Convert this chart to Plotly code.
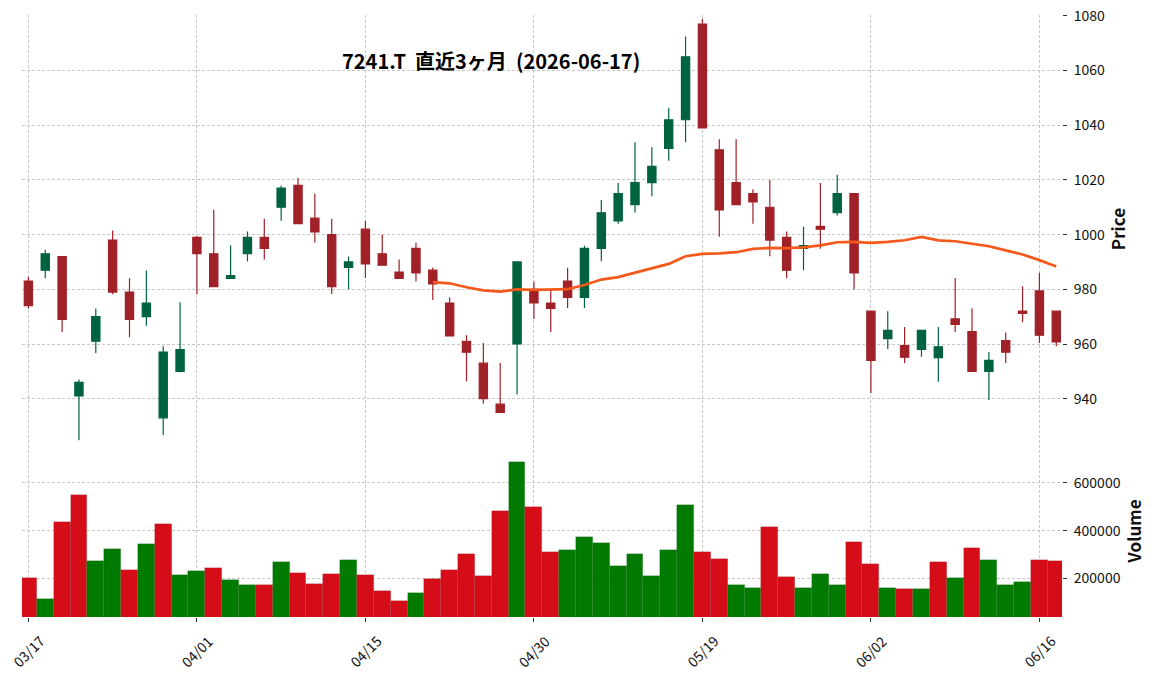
import plotly.graph_objects as go
from plotly.subplots import make_subplots
import pandas as pd

dates = ["03/17","03/18","03/19","03/23","03/24","03/25","03/26","03/27","03/30","03/31",
         "04/01","04/02","04/03","04/06","04/07","04/08","04/09","04/10","04/13","04/14",
         "04/15","04/16","04/17","04/20","04/21","04/22","04/23","04/24","04/27","04/28",
         "04/30","05/01","05/07","05/08","05/11","05/12","05/13","05/14","05/15","05/18",
         "05/19","05/20","05/21","05/22","05/25","05/26","05/27","05/28","05/29","06/01",
         "06/02","06/03","06/04","06/05","06/08","06/09","06/10","06/11","06/12","06/15",
         "06/16","06/17"]

opens = [983, 987, 992, 941, 961, 998, 979, 970, 933, 950,
         999, 993, 984, 993, 999, 1010, 1018, 1006, 1000, 988,
         1002, 993, 986.3, 995, 987, 975, 961, 953, 938, 960,
         980, 975, 983, 977, 995, 1005, 1011, 1019, 1031.5, 1042,
         1077, 1031, 1019, 1015, 1010, 999, 995, 1003, 1008, 1015,
         972, 962, 959.4, 958, 955, 969.2, 964.5, 950, 961.2, 972,
         979.4, 972]
highs = [984.6, 994.5, 992, 947, 973, 1001.5, 984, 986.9, 959.2, 975.3,
         999.5, 1009.1, 996, 1001.1, 1005.8, 1017.9, 1020.7, 1014.9, 1005.8, 992,
         1005.1, 1000, 990.9, 997, 988, 977.1, 963.2, 960.4, 953.1, 990.3,
         982.8, 980, 987.9, 995.9, 1012.7, 1018.9, 1033.8, 1031.9, 1046.4, 1072.4,
         1078.9, 1034.9, 1034.9, 1016.6, 1020, 1001.1, 1002.9, 1018.9, 1021.9, 1015,
         972.1, 972, 966.2, 965.2, 966.2, 984.1, 973.1, 957.1, 964.2, 981.1,
         986.1, 972.1]
lows = [973, 984, 964.4, 924.8, 956.7, 978.2, 962.5, 966.7, 926.7, 949.7,
        978.2, 981, 983.9, 990.3, 990.9, 1005.1, 1003.8, 997.1, 978.3, 980,
        984.1, 988.8, 983.9, 982.9, 976.1, 963.2, 946.3, 938.2, 935.2, 941.5,
        969.1, 964.4, 973.2, 973.2, 990.3, 1004, 1008.1, 1014, 1027, 1033.8,
        1038.8, 999.2, 1010.8, 1004, 992.1, 984, 987, 994.8, 1007, 980,
        942.1, 958.2, 953.1, 955.3, 946.2, 964.4, 950.1, 939.5, 953.1, 968,
        960.4, 959.2]
closes = [974, 993, 969, 946, 970, 979, 969, 975, 957, 958,
          993, 981, 985, 999, 995, 1017, 1004, 1001, 981, 990,
          989.3, 988.8, 984, 986, 982, 963, 957, 940, 935, 990,
          975, 973, 977, 995, 1008, 1015, 1019, 1025, 1042, 1065,
          1039, 1009, 1011, 1012, 998, 987, 996, 1002, 1015, 986,
          954, 965, 955.2, 965, 959, 967.2, 950, 954, 957, 971.2,
          963.2, 960.8]
volumes = [200000, 112000, 435000, 548000, 271000, 322000, 234000, 343000, 427000, 213000,
           229000, 242000, 192000, 171000, 171000, 267000, 221000, 175000, 217000, 276000,
           213000, 145000, 103500, 137000, 196000, 234000, 301000, 208000, 481000, 687000,
           498000, 309000, 317000, 372000, 347000, 250000, 301000, 208000, 317000, 506000,
           309000, 280000, 171000, 158000, 414000, 204000, 158000, 217000, 171000, 351000,
           259000, 158000, 154000, 154000, 267000, 200000, 326000, 276000, 171000, 183000,
           276000, 271000]

tick_idx = [0, 10, 20, 30, 40, 50, 60]
price_ticks = [940, 960, 980, 1000, 1020, 1040, 1060, 1080]
vol_ticks = [200000, 400000, 600000]
title_text = "7241.T  直近3ヶ月  (2026-06-17)"

UP, DOWN = "#006340", "#a02128"
VUP, VDOWN = "#007a00", "#d50d18"
FONT = "Noto Sans CJK JP"

x = list(range(len(dates)))
ma25 = pd.Series(closes).rolling(25).mean()

vcolors = []
for i in range(len(closes)):
    ref = opens[0] if i == 0 else closes[i - 1]
    vcolors.append(VUP if closes[i] >= ref else VDOWN)

fig = make_subplots(rows=2, cols=1, shared_xaxes=True, vertical_spacing=0.0033,
                    row_heights=[428, 172])

fig.add_trace(go.Candlestick(
    x=x, open=opens, high=highs, low=lows, close=closes,
    increasing=dict(fillcolor=UP, line=dict(color=UP, width=1.2)),
    decreasing=dict(fillcolor=DOWN, line=dict(color=DOWN, width=1.2)),
    whiskerwidth=0, showlegend=False, hoverinfo="skip"), row=1, col=1)

fig.add_trace(go.Scatter(x=x, y=ma25, mode="lines",
                         line=dict(color="#f4581a", width=2.7),
                         showlegend=False, hoverinfo="skip"), row=1, col=1)

fig.add_trace(go.Bar(x=x, y=volumes, width=1.0, marker=dict(color=vcolors,
                     line=dict(color="rgba(0,0,0,0.12)", width=0.6)),
                     showlegend=False, hoverinfo="skip"), row=2, col=1)

grid = dict(showgrid=True, gridcolor="#c8c8c8", griddash="3px,2px", gridwidth=0.8,
            zeroline=False, showline=False, automargin=False)

fig.update_xaxes(range=[-0.38, 61.34], tickvals=tick_idx,
                 ticktext=[dates[i] for i in tick_idx],
                 rangeslider_visible=False, showticklabels=False, **grid)
fig.update_xaxes(ticks="", row=1, col=1)
fig.update_xaxes(ticks="outside", ticklen=4, tickcolor="#333", row=2, col=1)

tickfont = dict(size=14, color="#111", family=FONT)
titlefont = dict(size=17, color="#111", family=FONT, weight="bold")
fig.update_yaxes(side="right", range=[923.8, 1080.3], tickvals=price_ticks,
                 ticks="outside", ticklen=4, tickcolor="#333", ticklabelstandoff=4,
                 tickfont=tickfont,
                 title=dict(text="Price", font=titlefont, standoff=7),
                 **grid, row=1, col=1)
fig.update_yaxes(side="right", range=[38000, 759000], tickvals=vol_ticks, tickformat="d",
                 ticks="outside", ticklen=4, tickcolor="#333", ticklabelstandoff=4,
                 tickfont=tickfont,
                 title=dict(text="Volume", font=titlefont, standoff=7),
                 **grid, row=2, col=1)

for i in tick_idx:
    fig.add_annotation(text=dates[i], xref="x2", yref="paper", x=i, y=-0.056,
                       showarrow=False, textangle=-45, xanchor="center", yanchor="middle",
                       font=tickfont)

fig.add_annotation(text="<b>" + title_text + "</b>", xref="paper", yref="paper",
                   x=0.451, y=0.925, showarrow=False, xanchor="center", yanchor="middle",
                   font=dict(size=20, color="#000", family=FONT))

fig.update_layout(width=1152, height=674, margin=dict(l=22, r=90, t=15, b=57),
                  paper_bgcolor="white", plot_bgcolor="white", bargap=0,
                  font=dict(family=FONT), showlegend=False)

fig.write_html("out.html")
